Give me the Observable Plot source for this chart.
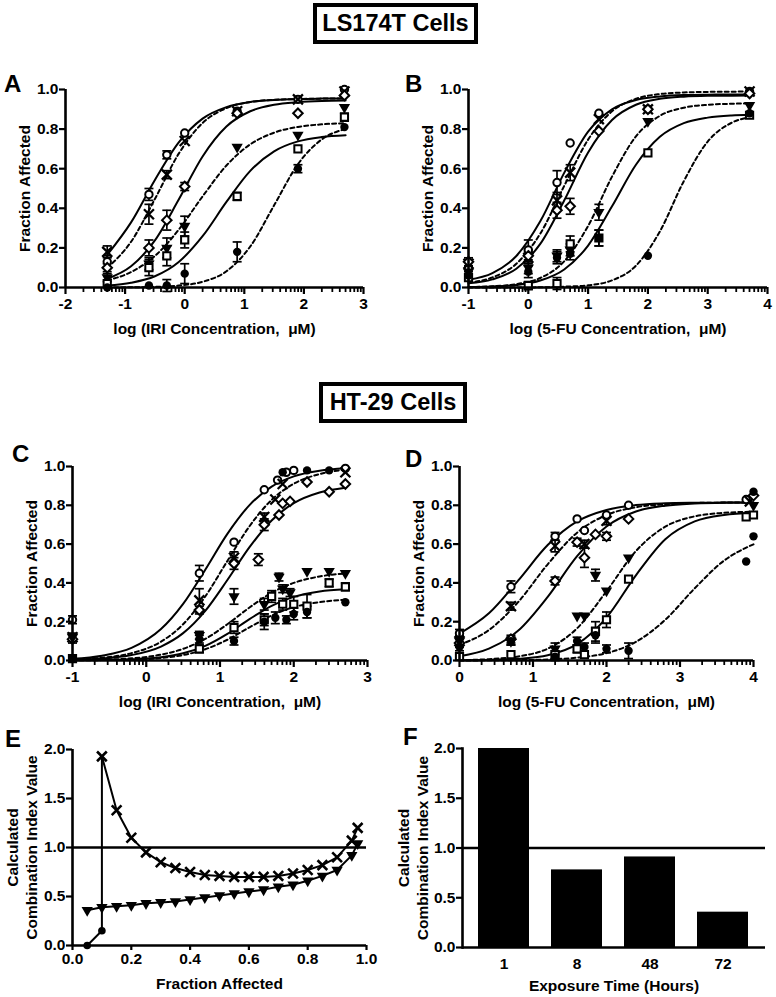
<!DOCTYPE html>
<html><head><meta charset="utf-8">
<script src="https://cdn.jsdelivr.net/npm/d3@7"></script>
<script src="https://cdn.jsdelivr.net/npm/@observablehq/plot@0.6"></script>
<style>
body{margin:0;background:#fff;}
#fig{position:relative;width:776px;height:997px;background:#fff;font-family:"Liberation Sans",Arial,Helvetica,sans-serif;overflow:hidden;color:#000;}
.letter{position:absolute;font-weight:bold;font-size:24px;line-height:24px;}
.tbox{position:absolute;border:4px solid #000;box-sizing:border-box;display:flex;align-items:center;justify-content:center;font-weight:bold;font-size:23.5px;background:#fff;}
</style></head>
<body><div id="fig"></div>
<script>
// ---------------- DATA ----------------
// Panel A : LS174T, IRI
const aDose = [-1.3, -0.6, -0.3, 0.0, 0.88, 1.9, 2.68];
const aCircle = [0.13, 0.47, 0.67, 0.78, 0.89, 0.95, 1.00];
const aCircleErr = [0.03, 0.03, 0.02, 0.01, 0.01, 0.01, 0.01];
const aCross = [0.18, 0.37, 0.57, 0.74, 0.89, 0.95, 0.99];
const aCrossErr = [0.03, 0.05, 0.02, 0.01, 0.01, 0.01, 0.01];
const aDiamond = [0.10, 0.20, 0.34, 0.51, 0.88, 0.88, 0.97];
const aDiamondErr = [0.02, 0.04, 0.05, 0.02, 0.01, 0.01, 0.01];
const aTriangle = [0.05, 0.12, 0.20, 0.31, 0.71, 0.77, 0.91];
const aTriangleErr = [0.02, 0.03, 0.05, 0.05, 0.01, 0.01, 0.01];
const aSquare = [0.02, 0.10, 0.16, 0.24, 0.46, 0.70, 0.86];
const aSquareErr = [0.01, 0.04, 0.05, 0.04, 0.02, 0.01, 0.02];
const aDisc = [0.00, 0.01, 0.01, 0.07, 0.18, 0.60, 0.81];
const aDiscErr = [0.01, 0.01, 0.03, 0.05, 0.05, 0.02, 0.01];
const aFitX = [-1.3, -0.9, -0.5, -0.1, 0.3, 0.7, 1.1, 1.5, 1.9, 2.3, 2.7];
const aFitCircle = [0.165, 0.329, 0.543, 0.733, 0.853, 0.911, 0.937, 0.947, 0.952, 0.954, 0.955];
const aFitCross = [0.099, 0.231, 0.447, 0.676, 0.831, 0.906, 0.937, 0.948, 0.952, 0.954, 0.955];
const aFitDiamond = [0.044, 0.107, 0.238, 0.444, 0.662, 0.813, 0.890, 0.923, 0.936, 0.942, 0.944];
const aFitTriangle = [0.036, 0.078, 0.159, 0.292, 0.460, 0.616, 0.723, 0.782, 0.811, 0.824, 0.830];
const aFitSquare = [0.010, 0.024, 0.057, 0.129, 0.259, 0.432, 0.589, 0.688, 0.738, 0.760, 0.769];
const aFitDisc = [0.000, 0.001, 0.003, 0.010, 0.029, 0.082, 0.207, 0.415, 0.623, 0.748, 0.801];

// Panel B : LS174T, 5-FU
const bDose = [-1, 0, 0.48, 0.7, 1.18, 2.0, 3.7];
const bCircle = [0.10, 0.19, 0.53, 0.73, 0.88, 0.90, 0.99];
const bCircleErr = [0.03, 0.05, 0.06, 0.01, 0.01, 0.01, 0.01];
const bCross = [0.12, 0.15, 0.44, 0.58, 0.85, 0.90, 0.99];
const bCrossErr = [0.02, 0.03, 0.04, 0.04, 0.01, 0.01, 0.01];
const bDiamond = [0.13, 0.16, 0.39, 0.41, 0.79, 0.90, 0.98];
const bDiamondErr = [0.02, 0.03, 0.04, 0.04, 0.01, 0.01, 0.01];
const bTriangle = [0.08, 0.10, 0.16, 0.19, 0.38, 0.84, 0.92];
const bTriangleErr = [0.02, 0.03, 0.03, 0.03, 0.04, 0.01, 0.01];
const bSquare = [0.05, 0.01, 0.02, 0.22, 0.25, 0.68, 0.87];
const bSquareErr = [0.01, 0.02, 0.03, 0.04, 0.04, 0.01, 0.01];
const bDisc = [0.06, 0.08, 0.15, 0.17, 0.25, 0.16, 0.88];
const bDiscErr = [0.02, 0.03, 0.03, 0.03, 0.04, 0.01, 0.01];
const bFitX = [-1, -0.6, -0.2, 0.2, 0.6, 1.0, 1.4, 1.8, 2.2, 2.6, 3.0, 3.4, 3.7];
const bFitCircle = [0.039, 0.073, 0.159, 0.334, 0.579, 0.787, 0.900, 0.947, 0.965, 0.972, 0.974, 0.975, 0.975];
const bFitCross = [0.025, 0.051, 0.120, 0.272, 0.513, 0.747, 0.890, 0.953, 0.977, 0.985, 0.988, 0.989, 0.990];
const bFitDiamond = [0.021, 0.041, 0.095, 0.220, 0.439, 0.682, 0.846, 0.923, 0.953, 0.964, 0.968, 0.969, 0.970];
const bFitTriangle = [0.002, 0.006, 0.017, 0.048, 0.132, 0.311, 0.560, 0.763, 0.867, 0.908, 0.923, 0.928, 0.930];
const bFitSquare = [0.002, 0.005, 0.013, 0.035, 0.091, 0.212, 0.410, 0.620, 0.761, 0.830, 0.858, 0.869, 0.872];
const bFitDisc = [0.000, 0.000, 0.000, 0.001, 0.004, 0.011, 0.036, 0.110, 0.283, 0.537, 0.737, 0.832, 0.860];

// Panel C : HT-29, IRI
const cCircleX = [-1, 0.72, 1.19, 1.6, 1.78, 1.9, 2.0, 2.7];
const cCircle = [0.21, 0.45, 0.61, 0.88, 0.93, 0.97, 0.98, 0.99];
const cCircleErr = [0.02, 0.04, 0.01, 0.01, 0.01, 0.01, 0.01, 0.01];
const cCrossX = [-1, 0.72, 1.19, 1.6, 1.75, 1.85, 2.7];
const cCross = [0.12, 0.31, 0.53, 0.74, 0.83, 0.91, 0.97];
const cCrossErr = [0.02, 0.06, 0.03, 0.02, 0.01, 0.01, 0.01];
const cDiamondX = [-1, 0.72, 1.19, 1.52, 1.6, 1.8, 1.85, 1.95, 2.18, 2.48, 2.7];
const cDiamond = [0.11, 0.26, 0.50, 0.52, 0.70, 0.75, 0.81, 0.82, 0.92, 0.87, 0.91];
const cDiamondErr = [0.02, 0.02, 0.03, 0.03, 0.03, 0.01, 0.01, 0.01, 0.01, 0.01, 0.01];
const cTriangleX = [-1, 0.72, 1.19, 1.6, 1.8, 1.85, 1.95, 2.18, 2.48, 2.7];
const cTriangle = [0.12, 0.13, 0.33, 0.29, 0.43, 0.37, 0.35, 0.46, 0.46, 0.45];
const cTriangleErr = [0.02, 0.02, 0.04, 0.03, 0.02, 0.02, 0.02, 0.01, 0.01, 0.01];
const cSquareX = [-1, 0.72, 1.19, 1.6, 1.7, 1.85, 2.0, 2.18, 2.48, 2.7];
const cSquare = [0.01, 0.06, 0.17, 0.21, 0.33, 0.29, 0.29, 0.28, 0.40, 0.38];
const cSquareErr = [0.01, 0.02, 0.03, 0.03, 0.03, 0.03, 0.04, 0.06, 0.02, 0.02];
const cDiscX = [-1, 0.72, 1.19, 1.6, 1.75, 1.85, 1.9, 2.0, 2.18, 2.18, 2.48, 2.7];
const cDisc = [0.01, 0.11, 0.10, 0.20, 0.22, 0.97, 0.21, 0.24, 0.25, 0.98, 0.98, 0.30];
const cDiscErr = [0.01, 0.02, 0.02, 0.04, 0.03, 0.01, 0.02, 0.03, 0.03, 0.01, 0.01, 0.01];
const cFitX = [-1, -0.6, -0.2, 0.2, 0.5, 0.8, 1.1, 1.4, 1.7, 2.0, 2.35, 2.7];
const cFitCircle = [0.009, 0.025, 0.065, 0.162, 0.292, 0.468, 0.653, 0.801, 0.896, 0.949, 0.978, 0.991];
const cFitCross = [0.005, 0.014, 0.038, 0.097, 0.187, 0.330, 0.513, 0.692, 0.828, 0.911, 0.961, 0.984];
const cFitDiamond = [0.004, 0.010, 0.028, 0.072, 0.141, 0.256, 0.415, 0.584, 0.722, 0.811, 0.866, 0.891];
const cFitTriangle = [0.002, 0.004, 0.011, 0.030, 0.060, 0.111, 0.187, 0.273, 0.349, 0.400, 0.433, 0.449];
const cFitSquare = [0.001, 0.002, 0.006, 0.017, 0.037, 0.075, 0.137, 0.213, 0.282, 0.328, 0.356, 0.367];
const cFitDisc = [0.001, 0.002, 0.004, 0.013, 0.028, 0.058, 0.107, 0.171, 0.232, 0.275, 0.301, 0.313];

// Panel D : HT-29, 5-FU
const dCircleX = [0, 0.7, 1.3, 1.6, 1.7, 2.0, 2.3, 3.9];
const dCircle = [0.14, 0.38, 0.64, 0.73, 0.67, 0.75, 0.80, 0.83];
const dCircleErr = [0.02, 0.03, 0.02, 0.01, 0.01, 0.01, 0.01, 0.01];
const dCrossX = [0, 0.7, 1.3, 1.7, 2.0, 3.95];
const dCross = [0.10, 0.28, 0.59, 0.60, 0.72, 0.82];
const dCrossErr = [0.03, 0.02, 0.03, 0.02, 0.02, 0.01];
const dDiamondX = [0, 0.7, 1.3, 1.6, 1.7, 1.85, 2.0, 2.3, 4.0];
const dDiamond = [0.09, 0.11, 0.41, 0.61, 0.53, 0.65, 0.64, 0.73, 0.85];
const dDiamondErr = [0.02, 0.02, 0.02, 0.02, 0.05, 0.01, 0.02, 0.01, 0.01];
const dTriangleX = [0, 0.7, 1.3, 1.6, 1.7, 1.85, 2.0, 2.3, 4.0];
const dTriangle = [0.10, 0.10, 0.06, 0.23, 0.23, 0.44, 0.36, 0.53, 0.80];
const dTriangleErr = [0.02, 0.02, 0.03, 0.01, 0.01, 0.03, 0.01, 0.01, 0.01];
const dSquareX = [0, 0.7, 1.3, 1.6, 1.7, 1.85, 2.0, 2.3, 3.9, 4.0];
const dSquare = [0.02, 0.03, 0.03, 0.06, 0.03, 0.15, 0.21, 0.42, 0.74, 0.75];
const dSquareErr = [0.01, 0.01, 0.02, 0.02, 0.01, 0.05, 0.04, 0.01, 0.01, 0.01];
const dDiscX = [0, 0.7, 1.3, 1.6, 1.7, 1.85, 2.0, 2.3, 3.9, 4.0, 4.0];
const dDisc = [0.07, 0.10, 0.02, 0.10, 0.07, 0.13, 0.06, 0.05, 0.51, 0.64, 0.87];
const dDiscErr = [0.02, 0.02, 0.02, 0.02, 0.02, 0.04, 0.02, 0.04, 0.01, 0.01, 0.01];
const dFitX = [0, 0.4, 0.8, 1.2, 1.6, 2.0, 2.4, 2.8, 3.2, 3.6, 4.0];
const dFitCircle = [0.139, 0.243, 0.413, 0.595, 0.717, 0.776, 0.801, 0.810, 0.813, 0.814, 0.815];
const dFitCross = [0.081, 0.157, 0.302, 0.496, 0.659, 0.750, 0.790, 0.806, 0.812, 0.814, 0.815];
const dFitDiamond = [0.022, 0.061, 0.154, 0.328, 0.538, 0.691, 0.768, 0.798, 0.809, 0.813, 0.814];
const dFitTriangle = [0.002, 0.007, 0.021, 0.061, 0.166, 0.357, 0.564, 0.690, 0.743, 0.761, 0.767];
const dFitSquare = [0.001, 0.003, 0.009, 0.027, 0.084, 0.221, 0.439, 0.625, 0.717, 0.750, 0.760];
const dFitDisc = [0.000, 0.001, 0.002, 0.005, 0.015, 0.038, 0.096, 0.210, 0.372, 0.515, 0.599];

// Panel E : combination index vs fraction affected
const eCrossFa = [0.10,0.15,0.20,0.25,0.30,0.35,0.40,0.45,0.50,0.55,0.60,0.65,0.70,0.75,0.80,0.85,0.90,0.95,0.97];
const eCrossCi = [1.93,1.38,1.10,0.95,0.85,0.79,0.75,0.72,0.71,0.70,0.70,0.70,0.71,0.735,0.77,0.82,0.90,1.07,1.20];
const eTriFa = [0.05,0.10,0.15,0.20,0.25,0.30,0.35,0.40,0.45,0.50,0.55,0.60,0.65,0.70,0.75,0.80,0.85,0.90,0.95,0.97];
const eTriCi = [0.36,0.39,0.40,0.41,0.43,0.44,0.45,0.47,0.49,0.51,0.53,0.55,0.57,0.60,0.62,0.66,0.71,0.77,0.92,1.04];
const eDiscFa = [0.05, 0.10];
const eDiscCi = [0.00, 0.15];

// Panel F : combination index by exposure time
const fTimes = ["1", "8", "48", "72"];
const fCI = [2.0, 0.78, 0.91, 0.355];

// Tick labels
const yFracTicks = [0, 0.2, 0.4, 0.6, 0.8, 1.0];
const ciTicks = [0, 0.5, 1.0, 1.5, 2.0];
const faTicks = [0, 0.2, 0.4, 0.6, 0.8, 1.0];
const aTicks = [-2, -1, 0, 1, 2, 3];
const bTicks = [-1, 0, 1, 2, 3, 4];
const cTicks = [-1, 0, 1, 2, 3];
const dTicks = [0, 1, 2, 3, 4];

// ---------------- DRAWING ----------------
const FONT = '"Liberation Sans", Arial, Helvetica, sans-serif';
const fig = document.getElementById("fig");
function place(node, left, top) {
  node.style.position = "absolute";
  node.style.left = left + "px";
  node.style.top = top + "px";
  fig.appendChild(node);
}
function html(cls, text, left, top, w, h) {
  const d = document.createElement("div");
  d.className = cls;
  d.textContent = text;
  d.style.left = left + "px"; d.style.top = top + "px";
  if (w) { d.style.width = w + "px"; d.style.height = h + "px"; }
  fig.appendChild(d);
}
const capSymbol = {draw(ctx, size) { const w = Math.sqrt(size / Math.PI); ctx.moveTo(-w, 0); ctx.lineTo(w, 0); }};
const STYLE = {
  circle:   {symbol: "circle", fill: "white", stroke: "black", strokeWidth: 2, r: 3.7},
  cross:    {symbol: "times", fill: "none", stroke: "black", strokeWidth: 2.3, r: 4.6},
  diamond:  {symbol: "diamond2", fill: "white", stroke: "black", strokeWidth: 2, r: 4.3},
  triangle: {symbol: "triangle", fill: "black", r: 4.2, rotate: 180},
  square:   {symbol: "square2", fill: "white", stroke: "black", strokeWidth: 2, r: 4.6},
  disc:     {symbol: "circle", fill: "black", r: 4.2}
};
function logMinor([d0, d1]) {
  const t = [];
  for (let k = Math.floor(d0); k < d1; k++)
    for (let m = 2; m <= 9; m++) { const v = k + Math.log10(m); if (v > d0 && v < d1) t.push(v); }
  return t;
}
// Tick marks as short rules hanging outside the frame (length given in px, converted to data units)
function xTickRules(ticks, y0, unitsPerPx, lenPx, sw) {
  return Plot.ruleX(ticks, {x: d => d, y1: y0, y2: y0 - lenPx * unitsPerPx, stroke: "black", strokeWidth: sw});
}
function yTickRules(ticks, x0, unitsPerPx, lenPx, sw) {
  return Plot.ruleY(ticks, {y: d => d, x1: x0, x2: x0 - lenPx * unitsPerPx, stroke: "black", strokeWidth: sw});
}
const svgStyle = {fontFamily: FONT, fontSize: "15.5px", fontWeight: "bold", color: "#000", background: "transparent", overflow: "visible"};

function dosePanel(c) {
  const marks = [];
  const order = ["circle", "cross", "diamond", "triangle", "square", "disc"];
  const fw = c.width - c.ml - c.mr, fh = c.height - c.mt - c.mb;
  const xUnit = (c.xDomain[1] - c.xDomain[0]) / fw, yUnit = 1 / fh;
  c.fits.forEach((fy, k) => {
    const dash = k % 2 === 1;
    marks.push(Plot.line(c.fitX.map((x, i) => ({x, y: fy[i]})), {
      x: "x", y: "y", curve: "monotone-x", stroke: "black", strokeWidth: 2,
      ...(dash ? {strokeDasharray: "4,3"} : {})
    }));
  });
  c.series.forEach(s => {
    const data = s.x.map((x, i) => ({x, y: s.y[i], e: s.e[i]})).filter(d => d.e > 0.015);
    marks.push(Plot.ruleX(data, {x: "x", y1: d => d.y - d.e, y2: d => d.y + d.e, stroke: "black", strokeWidth: 1.7}));
    marks.push(Plot.dot(data, {x: "x", y: d => d.y + d.e, symbol: capSymbol, r: 4.5, stroke: "black", strokeWidth: 1.7, fill: "none"}));
    marks.push(Plot.dot(data, {x: "x", y: d => d.y - d.e, symbol: capSymbol, r: 4.5, stroke: "black", strokeWidth: 1.7, fill: "none"}));
  });
  c.series.forEach((s, k) => {
    marks.push(Plot.dot(s.x.map((x, i) => ({x, y: s.y[i]})), {x: "x", y: "y", ...STYLE[order[k]]}));
  });
  marks.push(
    xTickRules(logMinor(c.xDomain), 0, yUnit, 5, 1.8),
    xTickRules(c.xTicks, 0, yUnit, 7, 2.2),
    yTickRules(yFracTicks, c.xDomain[0], xUnit, 6, 2.2),
    Plot.ruleX([c.xDomain[0]], {stroke: "black", strokeWidth: 2.6}),
    Plot.ruleY([0], {stroke: "black", strokeWidth: 2.6}),
    Plot.axisX({ticks: c.xTicks, tickSize: 0, tickPadding: 10, tickFormat: d => String(d)}),
    Plot.axisY({ticks: yFracTicks, tickSize: 0, tickPadding: 7, tickFormat: ".1f"}),
    Plot.text([c.xTitle], {frameAnchor: "bottom", dy: 46, lineAnchor: "bottom", fontSize: 15.5, fontWeight: "bold"}),
    Plot.text(["Fraction Affected"], {frameAnchor: "left", dx: -40, rotate: -90, lineAnchor: "middle", textAnchor: "middle", fontSize: 15.5, fontWeight: "bold"})
  );
  const svg = Plot.plot({
    width: c.width, height: c.height,
    marginTop: c.mt, marginRight: c.mr, marginBottom: c.mb, marginLeft: c.ml,
    x: {domain: c.xDomain, label: null},
    y: {domain: [0, 1], label: null},
    style: svgStyle,
    marks
  });
  place(svg, c.left, c.top);
}

function ser(x, y, e) { return {x, y, e}; }

dosePanel({
  left: 0, top: 60, width: 385, height: 285, mt: 29, mr: 22, mb: 58, ml: 65,
  xDomain: [-2, 3], xTicks: aTicks, xTitle: "log (IRI Concentration,  \u03BCM)",
  fitX: aFitX, fits: [aFitCircle, aFitCross, aFitDiamond, aFitTriangle, aFitSquare, aFitDisc],
  series: [ser(aDose, aCircle, aCircleErr), ser(aDose, aCross, aCrossErr), ser(aDose, aDiamond, aDiamondErr),
           ser(aDose, aTriangle, aTriangleErr), ser(aDose, aSquare, aSquareErr), ser(aDose, aDisc, aDiscErr)]
});
dosePanel({
  left: 385, top: 60, width: 391, height: 285, mt: 29, mr: 9, mb: 58, ml: 83,
  xDomain: [-1, 4], xTicks: bTicks, xTitle: "log (5-FU Concentration,  \u03BCM)",
  fitX: bFitX, fits: [bFitCircle, bFitCross, bFitDiamond, bFitTriangle, bFitSquare, bFitDisc],
  series: [ser(bDose, bCircle, bCircleErr), ser(bDose, bCross, bCrossErr), ser(bDose, bDiamond, bDiamondErr),
           ser(bDose, bTriangle, bTriangleErr), ser(bDose, bSquare, bSquareErr), ser(bDose, bDisc, bDiscErr)]
});
dosePanel({
  left: 0, top: 430, width: 385, height: 290, mt: 36, mr: 18, mb: 60, ml: 72,
  xDomain: [-1, 3], xTicks: cTicks, xTitle: "log (IRI Concentration,  \u03BCM)",
  fitX: cFitX, fits: [cFitCircle, cFitCross, cFitDiamond, cFitTriangle, cFitSquare, cFitDisc],
  series: [ser(cCircleX, cCircle, cCircleErr), ser(cCrossX, cCross, cCrossErr), ser(cDiamondX, cDiamond, cDiamondErr),
           ser(cTriangleX, cTriangle, cTriangleErr), ser(cSquareX, cSquare, cSquareErr), ser(cDiscX, cDisc, cDiscErr)]
});
dosePanel({
  left: 385, top: 430, width: 391, height: 290, mt: 36, mr: 23, mb: 60, ml: 74,
  xDomain: [0, 4], xTicks: dTicks, xTitle: "log (5-FU Concentration,  \u03BCM)",
  fitX: dFitX, fits: [dFitCircle, dFitCross, dFitDiamond, dFitTriangle, dFitSquare, dFitDisc],
  series: [ser(dCircleX, dCircle, dCircleErr), ser(dCrossX, dCross, dCrossErr), ser(dDiamondX, dDiamond, dDiamondErr),
           ser(dTriangleX, dTriangle, dTriangleErr), ser(dSquareX, dSquare, dSquareErr), ser(dDiscX, dDisc, dDiscErr)]
});

// Panel E
{
  const cross = eCrossFa.map((fa, i) => ({fa, ci: eCrossCi[i]}));
  const tri = eTriFa.map((fa, i) => ({fa, ci: eTriCi[i]}));
  const disc = eDiscFa.map((fa, i) => ({fa, ci: eDiscCi[i]}));
  const discLine = [...disc, cross[0]];
  const W = 385, H = 277, mt = 29, mr = 19, mb = 52, ml = 72;
  const xUnit = 1 / (W - ml - mr), yUnit = 2 / (H - mt - mb);
  const svg = Plot.plot({
    width: W, height: H, marginTop: mt, marginRight: mr, marginBottom: mb, marginLeft: ml,
    x: {domain: [0, 1], label: null},
    y: {domain: [0, 2], label: null},
    style: svgStyle,
    marks: [
      Plot.ruleY([1], {stroke: "black", strokeWidth: 2.6}),
      Plot.line(discLine, {x: "fa", y: "ci", stroke: "black", strokeWidth: 2}),
      Plot.line(cross, {x: "fa", y: "ci", stroke: "black", strokeWidth: 2}),
      Plot.line(tri, {x: "fa", y: "ci", stroke: "black", strokeWidth: 2}),
      Plot.dot(cross, {x: "fa", y: "ci", symbol: "times", stroke: "black", strokeWidth: 2.6, r: 4.5}),
      Plot.dot(tri, {x: "fa", y: "ci", symbol: "triangle", fill: "black", r: 4.2, rotate: 180}),
      Plot.dot(disc, {x: "fa", y: "ci", symbol: "circle", fill: "black", r: 3.8}),
      xTickRules(faTicks, 0, yUnit, 5, 2.2),
      yTickRules(ciTicks, 0, xUnit, 6, 2.2),
      Plot.ruleX([0], {stroke: "black", strokeWidth: 2.6}),
      Plot.ruleY([0], {stroke: "black", strokeWidth: 2.6}),
      Plot.axisX({ticks: faTicks, tickSize: 0, tickPadding: 7, tickFormat: ".1f"}),
      Plot.axisY({ticks: ciTicks, tickSize: 0, tickPadding: 7, tickFormat: ".1f"}),
      Plot.text(["Fraction Affected"], {frameAnchor: "bottom", dy: 43, lineAnchor: "bottom", fontSize: 15.5, fontWeight: "bold"}),
      Plot.text(["Calculated\nCombination Index Value"], {frameAnchor: "left", dx: -51, rotate: -90, lineAnchor: "middle", textAnchor: "middle", lineHeight: 1.2, fontSize: 15.5, fontWeight: "bold"})
    ]
  });
  place(svg, 0, 720);
}

// Panel F
{
  const data = fTimes.map((t, i) => ({t, ci: fCI[i]}));
  const W = 391, H = 277, mt = 28, mr = 11, mb = 50, ml = 77;
  const fw = W - ml - mr;
  const svg = Plot.plot({
    width: W, height: H, marginTop: mt, marginRight: mr, marginBottom: mb, marginLeft: ml,
    x: {type: "band", domain: fTimes, paddingInner: 0.3, paddingOuter: 0.2, label: null},
    y: {domain: [0, 2], label: null},
    style: svgStyle,
    marks: [
      Plot.barY(data, {x: "t", y: "ci", fill: "black"}),
      Plot.ruleY([1], {stroke: "black", strokeWidth: 2.6}),
      Plot.ruleY(ciTicks, {y: d => d, insetLeft: -6, insetRight: fw, stroke: "black", strokeWidth: 2.2}),
      Plot.frame({anchor: "left", stroke: "black", strokeWidth: 2.6}),
      Plot.ruleY([0], {stroke: "black", strokeWidth: 2.6}),
      Plot.axisX({tickSize: 0, tickPadding: 10}),
      Plot.axisY({ticks: ciTicks, tickSize: 0, tickPadding: 7, tickFormat: ".1f"}),
      Plot.text(["Exposure Time (Hours)"], {frameAnchor: "bottom", dy: 43, lineAnchor: "bottom", fontSize: 15.5, fontWeight: "bold"}),
      Plot.text(["Calculated\nCombination Index Value"], {frameAnchor: "left", dx: -50, rotate: -90, lineAnchor: "middle", textAnchor: "middle", lineHeight: 1.2, fontSize: 15.5, fontWeight: "bold"})
    ]
  });
  place(svg, 385, 720);
}

// Titles and panel letters
html("tbox", "LS174T Cells", 313, 3, 165, 41);
html("tbox", "HT-29 Cells", 319, 382, 148, 41);
html("letter", "A", 4, 72);
html("letter", "B", 405, 72);
html("letter", "C", 12, 442);
html("letter", "D", 405, 447);
html("letter", "E", 5, 727);
html("letter", "F", 403, 725);
</script>
</body></html>
